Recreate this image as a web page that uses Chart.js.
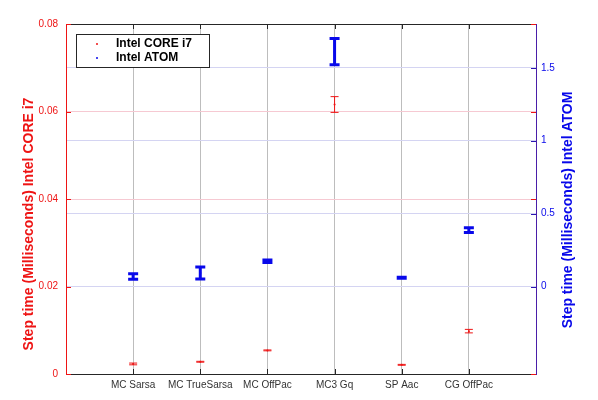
<!DOCTYPE html>
<html lang="en">
<head>
    <meta charset="UTF-8">
    <title>Step time</title>
    <script src="https://cdn.jsdelivr.net/npm/chart.js"></script>
    <style>
        body {
            margin: 0;
            padding: 0;
            background-color: #fff;
        }
        #wrap {
            width: 598px;
            height: 400px;
        }
    </style>
</head>
<body>
    <div id="wrap">
        <canvas id="stepChart" width="598" height="400"></canvas>
    </div>

    <script>
        // chart data
        var categories = ['MC Sarsa', 'MC TrueSarsa', 'MC OffPac', 'MC3 Gq', 'SP Aac', 'CG OffPac'];
        var coreMean = [0.0023, 0.0028, 0.0054, 0.0616, 0.0021, 0.0098];
        var coreErr = [0.0002, 0.0001, 0.0001, 0.0018, 0.0001, 0.0004];
        var atomMean = [0.068, 0.092, 0.173, 1.61, 0.060, 0.387];
        var atomErr = [0.019, 0.041, 0.008, 0.09, 0.004, 0.016];
        var coreTicks = [0, 0.02, 0.04, 0.06, 0.08];
        var atomTicks = [0, 0.5, 1, 1.5];

        var fontName = "'Liberation Sans', Arial, Helvetica, sans-serif";
        var red = '#ee1414';
        var blue = '#0808ea';

        function points(values) {
            return values.map(function(v, i) { return { x: i + 1, y: v }; });
        }

        // error bars, inward tick marks, top border, legend and axis titles
        var extras = {
            id: 'extras',
            afterDatasetsDraw: function(chart) {
                var ctx = chart.ctx;
                var xs = chart.scales.x;
                chart.data.datasets.forEach(function(ds) {
                    var ys = chart.scales[ds.yAxisID];
                    ctx.save();
                    ctx.strokeStyle = ds.borderColor;
                    ctx.lineWidth = ds.errWidth;
                    ds.data.forEach(function(p, j) {
                        var px = xs.getPixelForValue(p.x);
                        var top = ys.getPixelForValue(p.y + ds.errors[j]);
                        var bot = ys.getPixelForValue(p.y - ds.errors[j]);
                        var c = ds.capHalf;
                        ctx.beginPath();
                        ctx.moveTo(px, top);
                        ctx.lineTo(px, bot);
                        ctx.moveTo(px - c, top);
                        ctx.lineTo(px + c, top);
                        ctx.moveTo(px - c, bot);
                        ctx.lineTo(px + c, bot);
                        ctx.stroke();
                    });
                    ctx.restore();
                });
            },
            afterDraw: function(chart) {
                var ctx = chart.ctx;
                var a = chart.chartArea;
                var xs = chart.scales.x, yl = chart.scales.y, yr = chart.scales.y2;
                ctx.save();
                ctx.lineWidth = 1;

                // top border
                ctx.strokeStyle = '#262626';
                ctx.beginPath();
                ctx.moveTo(a.left, a.top + 0.5);
                ctx.lineTo(a.right, a.top + 0.5);
                ctx.stroke();

                // x ticks, pointing inward at top and bottom
                xs.ticks.forEach(function(t) {
                    var px = Math.round(xs.getPixelForValue(t.value)) + 0.5;
                    ctx.beginPath();
                    ctx.moveTo(px, a.bottom);
                    ctx.lineTo(px, a.bottom - 5);
                    ctx.moveTo(px, a.top);
                    ctx.lineTo(px, a.top + 5);
                    ctx.stroke();
                });

                // left axis ticks (red) on both sides
                ctx.strokeStyle = red;
                yl.ticks.forEach(function(t) {
                    var py = Math.round(yl.getPixelForValue(t.value)) + 0.5;
                    ctx.beginPath();
                    ctx.moveTo(a.left, py);
                    ctx.lineTo(a.left + 5, py);
                    ctx.moveTo(a.right, py);
                    ctx.lineTo(a.right - 5, py);
                    ctx.stroke();
                });

                // right axis ticks (blue)
                ctx.strokeStyle = '#2a14b0';
                yr.ticks.forEach(function(t) {
                    var py = Math.round(yr.getPixelForValue(t.value)) + 0.5;
                    ctx.beginPath();
                    ctx.moveTo(a.right, py);
                    ctx.lineTo(a.right - 5, py);
                    ctx.stroke();
                });

                // legend box
                var lx = a.left + 10, ly = a.top + 10;
                ctx.fillStyle = '#fff';
                ctx.fillRect(lx, ly, 133, 33);
                ctx.strokeStyle = '#262626';
                ctx.strokeRect(lx + 0.5, ly + 0.5, 133, 33);
                ctx.font = 'bold 12px ' + fontName;
                ctx.textBaseline = 'middle';
                ctx.textAlign = 'left';
                chart.data.datasets.forEach(function(ds, i) {
                    var yy = ly + 10 + i * 14;
                    ctx.fillStyle = ds.borderColor;
                    ctx.beginPath();
                    ctx.arc(lx + 21, yy, 1, 0, Math.PI * 2);
                    ctx.fill();
                    ctx.fillStyle = '#000';
                    ctx.fillText(ds.label, lx + 40, yy);
                });

                // axis titles
                var mid = (a.top + a.bottom) / 2;
                ctx.font = 'bold 14px ' + fontName;
                ctx.textAlign = 'center';
                ctx.save();
                ctx.translate(a.left - 37, mid + 25);
                ctx.rotate(-Math.PI / 2);
                ctx.fillStyle = red;
                ctx.fillText('Step time (Milliseconds) Intel CORE i7', 0, 0);
                ctx.restore();
                ctx.save();
                ctx.translate(a.right + 32, mid + 11);
                ctx.rotate(-Math.PI / 2);
                ctx.fillStyle = blue;
                ctx.fillText('Step time (Milliseconds) Intel ATOM', 0, 0);
                ctx.restore();

                ctx.restore();
            }
        };

        var ctx = document.getElementById('stepChart').getContext('2d');
        window.stepChart = new Chart(ctx, {
            type: 'scatter',
            data: {
                datasets: [{
                    label: 'Intel CORE i7',
                    data: points(coreMean),
                    errors: coreErr,
                    errWidth: 1,
                    capHalf: 4,
                    yAxisID: 'y',
                    borderColor: red,
                    backgroundColor: red,
                    pointRadius: 1,
                    pointBorderWidth: 0
                }, {
                    label: 'Intel ATOM',
                    data: points(atomMean),
                    errors: atomErr,
                    errWidth: 3,
                    capHalf: 5,
                    yAxisID: 'y2',
                    borderColor: blue,
                    backgroundColor: blue,
                    pointRadius: 1,
                    pointBorderWidth: 0
                }]
            },
            options: {
                responsive: false,
                animation: false,
                layout: {
                    padding: { top: 24, left: 0, right: 0, bottom: 0 }
                },
                plugins: {
                    legend: { display: false },
                    tooltip: { enabled: false }
                },
                scales: {
                    x: {
                        type: 'linear',
                        position: 'bottom',
                        min: 0,
                        max: 7,
                        afterBuildTicks: function(scale) {
                            scale.ticks = categories.map(function(c, i) { return { value: i + 1 }; });
                        },
                        afterFit: function(scale) { scale.height = 26; },
                        ticks: {
                            padding: 5,
                            color: '#333',
                            font: { family: fontName, size: 10 },
                            maxRotation: 0,
                            autoSkip: false,
                            callback: function(v) { return categories[v - 1]; }
                        },
                        grid: { color: '#bdbdbd', drawTicks: false },
                        border: { color: '#262626' }
                    },
                    y: {
                        position: 'left',
                        min: 0,
                        max: 0.08,
                        afterBuildTicks: function(scale) {
                            scale.ticks = coreTicks.map(function(v) { return { value: v }; });
                        },
                        afterFit: function(scale) { scale.width = 66; },
                        ticks: {
                            padding: 8,
                            color: red,
                            font: { family: fontName, size: 10 },
                            callback: function(v) { return String(v); }
                        },
                        grid: { color: '#f6c9d2', drawTicks: false },
                        border: { color: red }
                    },
                    y2: {
                        position: 'right',
                        min: -0.6,
                        max: 1.8,
                        afterBuildTicks: function(scale) {
                            scale.ticks = atomTicks.map(function(v) { return { value: v }; });
                        },
                        afterFit: function(scale) { scale.width = 62; },
                        ticks: {
                            padding: 5,
                            color: blue,
                            font: { family: fontName, size: 10 },
                            callback: function(v) { return String(v); }
                        },
                        grid: { color: '#d4d4f2', drawTicks: false },
                        border: { color: '#4a1ea8' }
                    }
                }
            },
            plugins: [extras]
        });
    </script>
</body>
</html>
